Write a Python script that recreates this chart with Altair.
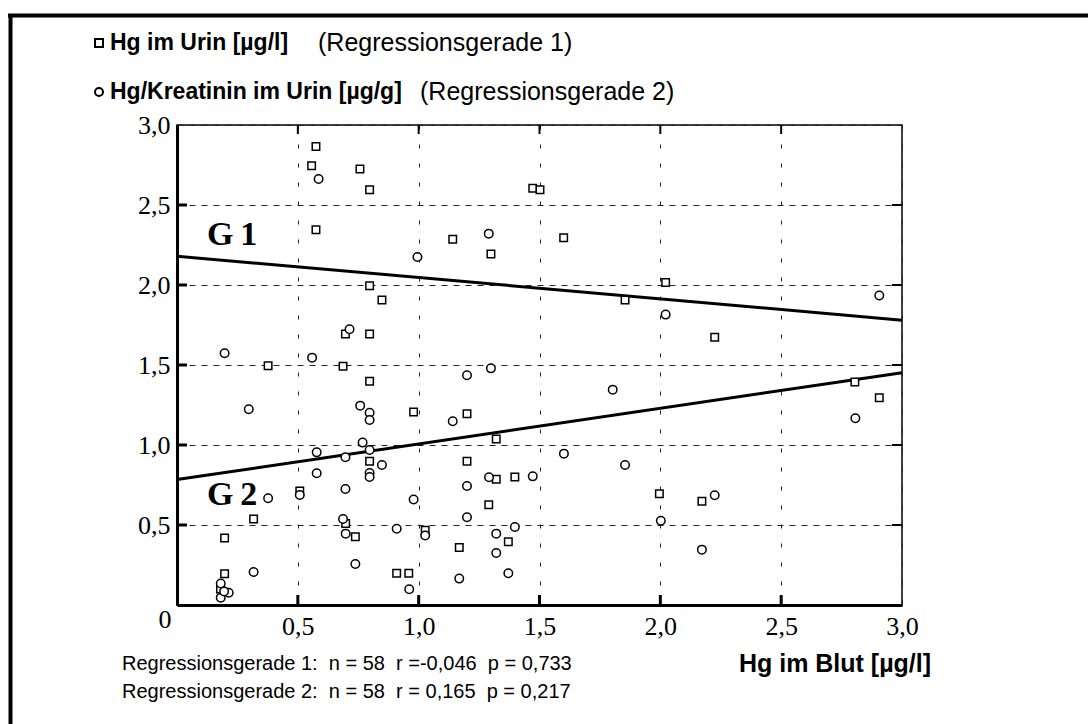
import altair as alt
import pandas as pd

# ---- data ----
sq_x = [0.575, 0.557, 0.757, 0.797, 0.575, 0.797, 0.848, 0.697, 0.797, 0.377, 0.687, 0.797,
        0.979, 0.797, 0.508, 0.317, 0.698, 0.197, 0.738, 0.197, 0.180, 0.909, 0.959, 1.472,
        1.502, 1.141, 1.299, 1.600, 1.854, 1.200, 1.321, 1.200, 1.321, 1.398, 1.290, 1.027,
        1.371, 1.168, 1.996, 2.022, 2.225, 2.805, 2.906, 2.172]
sq_y = [2.865, 2.746, 2.725, 2.596, 2.346, 1.996, 1.906, 1.694, 1.694, 1.496, 1.492, 1.398,
        1.206, 0.898, 0.713, 0.538, 0.509, 0.419, 0.427, 0.196, 0.100, 0.198, 0.198, 2.604,
        2.596, 2.286, 2.194, 2.296, 1.906, 1.196, 1.038, 0.898, 0.786, 0.800, 0.627, 0.467,
        0.396, 0.360, 0.696, 2.015, 1.673, 1.394, 1.296, 0.648]

ci_x = [0.586, 0.995, 0.714, 0.197, 0.559, 0.297, 0.758, 0.797, 0.797, 0.768, 0.578, 0.697,
        0.797, 0.848, 0.578, 0.797, 0.797, 0.697, 0.508, 0.377, 0.979, 0.687, 0.909, 0.698,
        0.738, 0.317, 0.961, 0.181, 0.214, 0.181, 0.195, 1.290, 1.299, 1.200, 1.803, 1.141,
        1.601, 1.854, 1.291, 1.472, 1.200, 1.200, 1.398, 1.321, 1.027, 1.321, 1.371, 1.168,
        2.022, 2.906, 2.807, 2.225, 2.002, 2.172]
ci_y = [2.663, 2.175, 1.723, 1.573, 1.546, 1.223, 1.246, 1.202, 1.156, 1.015, 0.954, 0.923,
        0.969, 0.875, 0.823, 0.825, 0.800, 0.725, 0.688, 0.667, 0.659, 0.538, 0.477, 0.446,
        0.256, 0.206, 0.098, 0.134, 0.077, 0.046, 0.085, 2.321, 1.479, 1.436, 1.346, 1.148,
        0.946, 0.875, 0.798, 0.804, 0.744, 0.548, 0.488, 0.446, 0.434, 0.325, 0.198, 0.165,
        1.815, 1.934, 1.167, 0.686, 0.527, 0.346]

# regression lines (intercept, slope)
reg_names = ["G1", "G2"]
reg_intercept = [2.18, 0.784]
reg_slope = [-0.1333, 0.2227]
line_x = [0.0, 3.0]

tick_vals = [0.5, 1.0, 1.5, 2.0, 2.5]

W, H = 725, 480
SANS = "Liberation Sans Narrow, Arial Narrow, Liberation Sans, sans-serif"
SERIF = "Liberation Serif, Times New Roman, serif"
NB = "\u00a0"

sq = pd.DataFrame({"x": sq_x, "y": sq_y})
ci = pd.DataFrame({"x": ci_x, "y": ci_y})
rows = []
for n, a, b in zip(reg_names, reg_intercept, reg_slope):
    for xv in line_x:
        rows.append({"g": n, "x": xv, "y": a + b * xv})
reg = pd.DataFrame(rows)
ticks = pd.DataFrame({"v": tick_vals})

lab = "datum.value == 0 ? '' : replace(format(datum.value, '.1f'), '.', ',')"
xs = alt.Scale(domain=[0, 3], nice=False, zero=False)
ys = alt.Scale(domain=[0, 3], nice=False, zero=False)

X = alt.X("x:Q", scale=xs, axis=alt.Axis(
    values=[0, 0.5, 1, 1.5, 2, 2.5, 3], labelExpr=lab, title=None, ticks=False,
    domainWidth=3, domainColor="black", labelFont=SERIF, labelFontSize=26,
    labelColor="black", labelPadding=8, gridDash=[4, 15], gridColor="#222",
    gridWidth=1, labelFlush=False, labelOverlap=False))
Y = alt.Y("y:Q", scale=ys, axis=alt.Axis(
    values=[0, 0.5, 1, 1.5, 2, 2.5, 3], labelExpr=lab, title=None, ticks=False,
    domainWidth=3, domainColor="black", labelFont=SERIF, labelFontSize=26,
    labelColor="black", labelPadding=7, gridDash=[6, 6], gridColor="#222",
    gridWidth=1, labelFlush=False, labelOverlap=False))

base_pts = alt.Chart(sq).mark_point(shape="square", filled=True, fill="white",
                                    stroke="black", strokeWidth=1.5, size=56,
                                    opacity=1).encode(x=X, y=Y)
circ_pts = alt.Chart(ci).mark_point(shape="circle", filled=True, fill="white",
                                    stroke="black", strokeWidth=1.5, size=72,
                                    opacity=1).encode(x="x:Q", y="y:Q")
lines = alt.Chart(reg).mark_line(color="black", strokeWidth=3).encode(
    x="x:Q", y="y:Q", detail="g:N")

left_t = alt.Chart(ticks).mark_rule(color="black", strokeWidth=3).encode(
    y=alt.Y("v:Q", scale=ys), x=alt.value(0), x2=alt.value(10))
right_t = alt.Chart(ticks).mark_rule(color="black", strokeWidth=2).encode(
    y=alt.Y("v:Q", scale=ys), x=alt.value(W - 10), x2=alt.value(W))
bot_t = alt.Chart(ticks).mark_rule(color="black", strokeWidth=3).encode(
    x=alt.X("v:Q", scale=xs), y=alt.value(H - 10), y2=alt.value(H))
top_t = alt.Chart(ticks).mark_rule(color="black", strokeWidth=2).encode(
    x=alt.X("v:Q", scale=xs), y=alt.value(0), y2=alt.value(9))

one = pd.DataFrame({"k": [0]})
frame_top = alt.Chart(one).mark_rule(color="black", strokeWidth=4).encode(
    x=alt.value(-169), x2=alt.value(920), y=alt.value(-109.5))
frame_left = alt.Chart(one).mark_rule(color="black", strokeWidth=4).encode(
    x=alt.value(-166.5), y=alt.value(-111), y2=alt.value(610))


def txt(s, x, y, size, font=SANS, weight="normal", align="left"):
    return alt.Chart(pd.DataFrame({"t": [s]})).mark_text(
        font=font, fontSize=size, fontWeight=weight, align=align,
        baseline="middle", color="black").encode(
        text="t:N", x=alt.value(x), y=alt.value(y))


leg_sq = alt.Chart(one).mark_point(shape="square", filled=True, fill="white",
                                   stroke="black", strokeWidth=2, size=64,
                                   opacity=1).encode(x=alt.value(-78), y=alt.value(-82))
leg_ci = alt.Chart(one).mark_point(shape="circle", filled=True, fill="white",
                                   stroke="black", strokeWidth=2, size=64,
                                   opacity=1).encode(x=alt.value(-78), y=alt.value(-33))

texts = [
    txt("Hg im Urin [µg/l]", -67, -82, 23, weight="bold"),
    txt("(Regressionsgerade 1)", 141, -82, 25),
    txt("Hg/Kreatinin im Urin [µg/g]", -67, -33, 23, weight="bold"),
    txt("(Regressionsgerade 2)", 243, -33, 25),
    txt("G\u20091", 30, 110, 34, font=SERIF, weight="bold"),
    txt("G\u20092", 30, 370, 34, font=SERIF, weight="bold"),
    txt("0", -12, 495, 26, font=SERIF, align="center"),
    txt(f"Regressionsgerade 1:{NB}{NB}n = 58{NB}{NB}r =-0,046{NB}{NB}p = 0,733", -55, 539, 20),
    txt(f"Regressionsgerade 2:{NB}{NB}n = 58{NB}{NB}r = 0,165{NB}{NB}p = 0,217", -55, 567, 20),
    txt("Hg im Blut [µg/l]", 658, 539, 25, weight="bold", align="center"),
]

chart = alt.layer(
    base_pts.mark_point(opacity=0), lines, left_t, right_t, bot_t, top_t,
    base_pts, circ_pts, frame_top, frame_left, leg_sq, leg_ci, *texts
).properties(
    width=W, height=H, autosize="none",
    padding={"left": 177, "top": 125, "right": 1088 - 177 - W, "bottom": 724 - 125 - H},
    background="white",
).configure_view(stroke="black", strokeWidth=1.5)

chart.save("out.html", embed_options={"renderer": "svg", "actions": False})
